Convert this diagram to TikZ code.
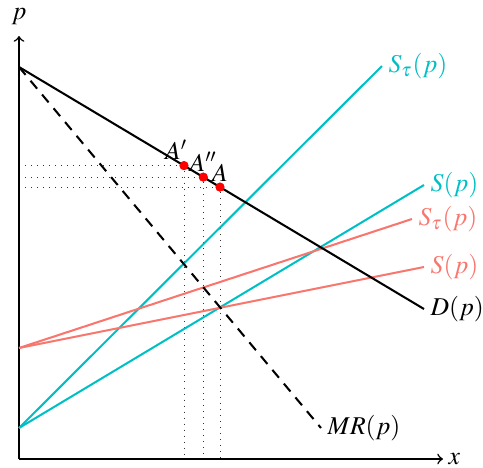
\documentclass[tikz,border=0pt]{standalone}
\usepackage{mathptmx}
\definecolor{gcyan}{HTML}{00BFC4}
\definecolor{gred}{HTML}{F8766D}
\begin{document}
\begin{tikzpicture}[x=0.39pt,y=-0.39pt,
  axis/.style={line width=0.6pt},
  curve/.style={line width=0.8pt},
  guide/.style={dotted,line width=0.35pt,black!80},
  pt/.style={circle,fill=red,inner sep=0pt,minimum size=3.5pt},
  lab/.style={anchor=west,inner sep=2.2pt}]
\useasboundingbox (0,0) rectangle (483,468);
% coordinates
\coordinate (O) at (19,459);
\coordinate (Ytop) at (19,36);
\coordinate (Xend) at (443,459);
\coordinate (Dtop) at (19,67);
\coordinate (Dend) at (424,309);
\coordinate (MRend) at (321,428);
\coordinate (Cs) at (19,428);
\coordinate (CtauEnd) at (382,66);
\coordinate (CsEnd) at (424,185);
\coordinate (Rs) at (19,348);
\coordinate (RtauEnd) at (412,219);
\coordinate (RsEnd) at (424,267);
% points
\node[pt] (A1) at (184,165.6) {};
\node[pt] (A2) at (203.3,177.1) {};
\node[pt] (A3) at (220,187.1) {};
% guides
\foreach \a in {A1,A2,A3}{
  \draw[guide] (O |- \a) -- (\a) -- (\a |- O);
}
% axes
\draw[axis,->] (O) -- (Ytop);
\draw[axis,->] (O) -- (Xend);
\node (plab) at (19,17) {$p$};
\node[anchor=west,inner sep=2pt] (xlab) at (Xend) {$x$};
% curves
\draw[curve,gcyan] (Cs) -- (CtauEnd) node[lab] (lct) {$S_\tau(p)$};
\draw[curve,gcyan] (Cs) -- (CsEnd) node[lab] (lcs) {$S(p)$};
\draw[curve,gred] (Rs) -- (RtauEnd) node[lab] (lrt) {$S_\tau(p)$};
\draw[curve,gred] (Rs) -- (RsEnd) node[lab] (lrs) {$S(p)$};
\draw[curve,black] (Dtop) -- (Dend) node[lab] (ld) {$D(p)$};
\draw[curve,black,dash pattern=on 4pt off 3pt] (Dtop) -- (MRend) node[lab] (lmr) {$MR(p)$};
% points on top
\node[pt] at (A1) {};
\node[pt] at (A2) {};
\node[pt] at (A3) {};
\node[anchor=south,inner sep=1pt] (lA1) at ([xshift=-3pt,yshift=1pt]A1) {$A'$};
\node[anchor=south,inner sep=1pt] (lA2) at ([yshift=1pt]A2) {$A''$};
\node[anchor=south,inner sep=1pt] (lA3) at ([yshift=1pt]A3) {$A$};
\end{tikzpicture}
\end{document}
